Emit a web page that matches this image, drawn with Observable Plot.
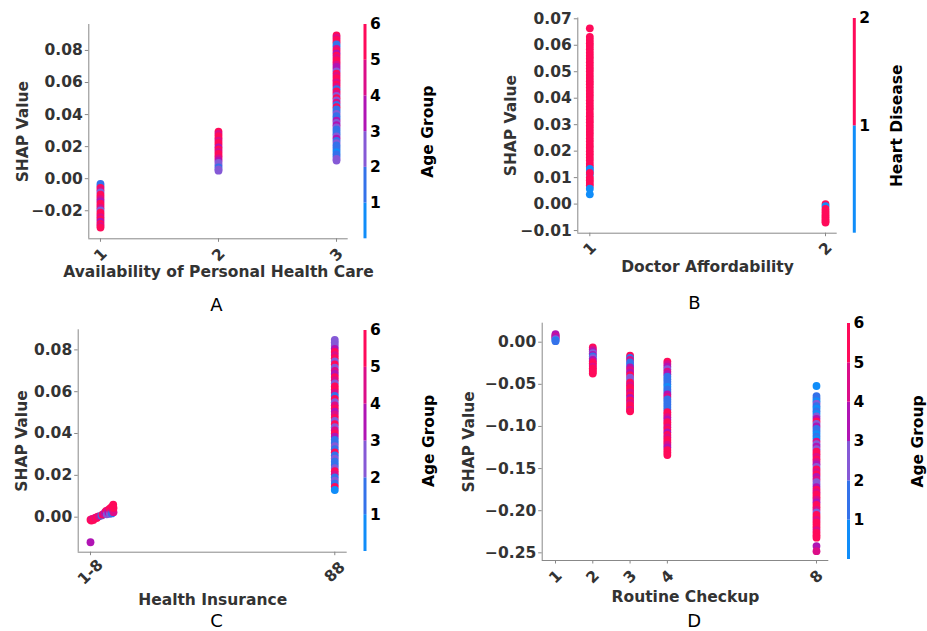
<!DOCTYPE html>
<html>
<head>
<meta charset="utf-8">
<script src="https://cdn.jsdelivr.net/npm/d3@7"></script>
<script src="https://cdn.jsdelivr.net/npm/@observablehq/plot@0.6"></script>
<style>
  html, body { margin: 0; padding: 0; background: #fff; }
  #chart { position: relative; width: 927px; height: 631px; overflow: hidden; background: #fff; }
  #chart svg { position: absolute; left: 0; top: 0; }
</style>
</head>
<body>
<div id="chart"></div>
<script>
// ---------- Data: SHAP dependence values, [shap, interaction value] per point ----------

// A: Availability of Personal Health Care, coloured by Age Group
const availabilityTicks = [1, 2, 3];
const availabilityCol1 = [[-0.0032, 2], [-0.0045, 2], [-0.0058, 6], [-0.0072, 5], [-0.0086, 3], [-0.0100, 6], [-0.0114, 6], [-0.0128, 5], [-0.0142, 4], [-0.0156, 6], [-0.0170, 6], [-0.0184, 5], [-0.0198, 3], [-0.0212, 6], [-0.0226, 6], [-0.0240, 5], [-0.0254, 6], [-0.0268, 4], [-0.0282, 6], [-0.0294, 5], [-0.0305, 6]];
const availabilityCol2 = [[0.0294, 6], [0.0280, 5], [0.0266, 6], [0.0252, 6], [0.0238, 5], [0.0224, 6], [0.0210, 6], [0.0196, 4], [0.0182, 6], [0.0168, 5], [0.0154, 6], [0.0140, 6], [0.0126, 5], [0.0112, 4], [0.0098, 3], [0.0084, 3], [0.0070, 2], [0.0058, 3], [0.0050, 3]];
const availabilityCol3 = [[0.0894, 6], [0.0880, 5], [0.0866, 6], [0.0852, 6], [0.0838, 2], [0.0824, 2], [0.0810, 5], [0.0796, 6], [0.0782, 4], [0.0768, 6], [0.0754, 5], [0.0740, 6], [0.0726, 6], [0.0712, 5], [0.0698, 4], [0.0684, 4], [0.0670, 3], [0.0656, 6], [0.0642, 5], [0.0628, 6], [0.0614, 6], [0.0600, 5], [0.0586, 6], [0.0572, 5], [0.0558, 2], [0.0544, 6], [0.0530, 5], [0.0516, 3], [0.0502, 6], [0.0488, 3], [0.0474, 5], [0.0460, 2], [0.0446, 6], [0.0432, 2], [0.0418, 2], [0.0404, 3], [0.0390, 2], [0.0376, 2], [0.0362, 4], [0.0348, 3], [0.0334, 4], [0.0320, 3], [0.0306, 2], [0.0292, 2], [0.0278, 2], [0.0264, 3], [0.0250, 4], [0.0236, 2], [0.0222, 3], [0.0208, 2], [0.0194, 2], [0.0180, 2], [0.0166, 1], [0.0152, 2], [0.0138, 2], [0.0124, 3], [0.0113, 3]];

// B: Doctor Affordability, coloured by Heart Disease
const affordabilityTicks = [1, 2];
const affordabilityCol1 = [[0.0664, 2], [0.0632, 2], [0.0620, 2], [0.0608, 2], [0.0597, 2], [0.0585, 2], [0.0572, 2], [0.0560, 2], [0.0549, 2], [0.0536, 2], [0.0524, 2], [0.0512, 2], [0.0501, 2], [0.0488, 2], [0.0476, 2], [0.0464, 2], [0.0453, 2], [0.0440, 2], [0.0428, 2], [0.0416, 2], [0.0405, 2], [0.0392, 2], [0.0380, 2], [0.0368, 2], [0.0357, 2], [0.0344, 2], [0.0332, 2], [0.0320, 2], [0.0309, 2], [0.0296, 2], [0.0284, 2], [0.0272, 2], [0.0261, 2], [0.0248, 2], [0.0236, 2], [0.0224, 2], [0.0213, 2], [0.0200, 2], [0.0188, 2], [0.0176, 2], [0.0165, 2], [0.0152, 2], [0.0141, 2], [0.0133, 1], [0.0125, 1], [0.0112, 1], [0.0118, 2], [0.0100, 2], [0.0090, 2], [0.0080, 2], [0.0070, 2], [0.0058, 1], [0.0037, 1]];
const affordabilityCol2 = [[0.0000, 2], [-0.0008, 1], [-0.0018, 2], [-0.0026, 2], [-0.0034, 2], [-0.0042, 2], [-0.0050, 2], [-0.0058, 2], [-0.0064, 2], [-0.0070, 2]];

// C: Health Insurance, coloured by Age Group ([insurance code, shap, age])
const insuranceTicks = [1, 88];
const insuranceTickLabels = ["1-8", "88"];
const insuranceLow = [[1.0, -0.0012, 6], [1.3, -0.0016, 6], [1.6, -0.0008, 5], [2.0, -0.0013, 6], [2.4, -0.0006, 6], [2.8, -0.0002, 5], [3.2, -0.0004, 6], [3.6, 0.0002, 6], [4.0, 0.0004, 5], [4.9, 0.0008, 2], [5.3, 0.0012, 6], [5.8, 0.0016, 5], [6.2, 0.0024, 4], [6.6, 0.0030, 6], [6.8, 0.0014, 3], [7.2, 0.0034, 5], [7.4, 0.0022, 4], [7.8, 0.0040, 6], [7.9, 0.0016, 3], [8.3, 0.0046, 6], [8.4, 0.0028, 5], [8.6, 0.0018, 2], [8.8, 0.0052, 6], [9.0, 0.0036, 6], [9.1, 0.0060, 6], [9.2, 0.0024, 5], [9.2, 0.0044, 6], [1.0, -0.0120, 4]];
const insuranceNone = [[0.0848, 3], [0.0835, 3], [0.0820, 3], [0.0805, 4], [0.0790, 6], [0.0775, 5], [0.0760, 6], [0.0745, 3], [0.0730, 6], [0.0715, 3], [0.0700, 5], [0.0685, 4], [0.0670, 6], [0.0655, 5], [0.0640, 3], [0.0625, 6], [0.0610, 6], [0.0595, 5], [0.0580, 2], [0.0565, 6], [0.0550, 3], [0.0535, 5], [0.0520, 6], [0.0505, 4], [0.0490, 5], [0.0475, 6], [0.0460, 3], [0.0445, 6], [0.0430, 3], [0.0415, 5], [0.0400, 6], [0.0385, 4], [0.0370, 2], [0.0355, 2], [0.0340, 3], [0.0325, 2], [0.0310, 6], [0.0295, 2], [0.0280, 3], [0.0265, 2], [0.0250, 2], [0.0235, 3], [0.0220, 6], [0.0205, 5], [0.0190, 2], [0.0175, 3], [0.0160, 2], [0.0145, 6], [0.0130, 1]];

// D: Routine Checkup, coloured by Age Group
const checkupTicks = [1, 2, 3, 4, 8];
const checkupCol1 = [[0.0096, 4], [0.0086, 4], [0.0076, 4], [0.0066, 5], [0.0056, 4], [0.0046, 4], [0.0036, 3], [0.0022, 1], [0.0012, 2]];
const checkupCol2 = [[-0.0063, 6], [-0.0088, 5], [-0.0110, 4], [-0.0130, 3], [-0.0150, 4], [-0.0170, 2], [-0.0190, 3], [-0.0210, 4], [-0.0230, 5], [-0.0250, 6], [-0.0270, 6], [-0.0290, 5], [-0.0310, 6], [-0.0330, 6], [-0.0350, 6], [-0.0372, 6]];
const checkupCol3 = [[-0.0160, 6], [-0.0185, 2], [-0.0210, 5], [-0.0240, 2], [-0.0270, 2], [-0.0300, 4], [-0.0330, 5], [-0.0360, 4], [-0.0390, 6], [-0.0420, 3], [-0.0450, 3], [-0.0480, 6], [-0.0510, 5], [-0.0540, 6], [-0.0570, 6], [-0.0600, 5], [-0.0630, 6], [-0.0660, 4], [-0.0690, 6], [-0.0720, 5], [-0.0750, 6], [-0.0780, 6], [-0.0805, 5], [-0.0820, 6]];
const checkupCol4 = [[-0.0230, 6], [-0.0260, 5], [-0.0290, 4], [-0.0320, 3], [-0.0350, 5], [-0.0380, 4], [-0.0410, 2], [-0.0440, 2], [-0.0470, 2], [-0.0500, 2], [-0.0530, 1], [-0.0560, 2], [-0.0590, 2], [-0.0620, 4], [-0.0650, 5], [-0.0680, 2], [-0.0710, 2], [-0.0740, 2], [-0.0770, 2], [-0.0800, 2], [-0.0830, 6], [-0.0860, 6], [-0.0890, 5], [-0.0920, 4], [-0.0950, 6], [-0.0980, 6], [-0.1010, 5], [-0.1040, 6], [-0.1070, 4], [-0.1100, 6], [-0.1130, 5], [-0.1160, 6], [-0.1190, 6], [-0.1220, 5], [-0.1250, 4], [-0.1280, 6], [-0.1310, 6], [-0.1340, 6]];
const checkupCol8 = [[-0.0520, 1], [-0.0640, 2], [-0.0670, 2], [-0.0700, 1], [-0.0730, 3], [-0.0760, 2], [-0.0790, 1], [-0.0820, 2], [-0.0850, 1], [-0.0880, 3], [-0.0910, 4], [-0.0940, 6], [-0.0970, 3], [-0.1000, 4], [-0.1030, 2], [-0.1060, 2], [-0.1090, 1], [-0.1120, 2], [-0.1150, 1], [-0.1180, 5], [-0.1210, 3], [-0.1240, 4], [-0.1270, 3], [-0.1300, 6], [-0.1330, 6], [-0.1360, 5], [-0.1390, 6], [-0.1420, 5], [-0.1450, 4], [-0.1480, 3], [-0.1510, 6], [-0.1540, 5], [-0.1570, 6], [-0.1600, 4], [-0.1630, 5], [-0.1660, 3], [-0.1690, 3], [-0.1720, 4], [-0.1750, 6], [-0.1780, 5], [-0.1810, 6], [-0.1840, 6], [-0.1870, 5], [-0.1900, 4], [-0.1930, 6], [-0.1960, 6], [-0.1990, 5], [-0.2020, 3], [-0.2050, 6], [-0.2080, 6], [-0.2110, 5], [-0.2140, 6], [-0.2170, 6], [-0.2200, 6], [-0.2230, 5], [-0.2260, 6], [-0.2290, 6], [-0.2320, 6], [-0.2420, 4], [-0.2480, 5]];

// Colour bar levels
const ageGroups = [1, 2, 3, 4, 5, 6];
const heartDiseaseLevels = [1, 2];

// ---------- Layout ----------
const W = 927, H = 631;
const FONT = "DejaVu Sans";
const ageColors = ["#108df9", "#3472ea", "#8559d6", "#b014b4", "#dc0d88", "#ff0a5a"];
const heartColors = ["#108df9", "#ff0a5a"];

const columns = (cols) => cols.flatMap(([x, pts]) => pts.map(([shap, c]) => ({x, shap, c})));

function frameMargins(f) {
  return {marginLeft: f.left, marginRight: W - f.right, marginTop: f.top, marginBottom: H - f.bottom};
}

const baseStyle = {
  fontFamily: FONT, fontSize: "15.5px", fontWeight: "bold", color: "#333",
  background: "transparent", overflow: "visible"
};

function scatterPanel(o) {
  return Plot.plot({
    width: W, height: H, ...frameMargins(o.frame),
    style: baseStyle,
    x: {domain: o.xDomain},
    y: {domain: o.yDomain},
    color: {type: "ordinal", domain: o.colorDomain, range: o.colorRange},
    marks: [
      Plot.ruleX([o.xDomain[0]], {stroke: "#888", strokeWidth: 1}),
      Plot.ruleY([o.yDomain[0]], {stroke: "#888", strokeWidth: 1}),
      Plot.dot(o.data, {x: "x", y: "shap", fill: "c", r: 3.9}),
      Plot.axisY({ticks: o.yTicks, tickFormat: d3.format(".2f"), tickSize: 3.5, tickPadding: 2.5,
                  stroke: "#888", fill: "#333", label: null}),
      Plot.axisX({ticks: o.xTicks, tickSize: 3.5, stroke: "#888", tickFormat: () => "", label: null}),
      Plot.text(o.xTicks, {x: d => d, text: (d, i) => o.xTickLabels[i], frameAnchor: "bottom",
                           dy: o.xTickDy, rotate: -45, textAnchor: "middle", lineAnchor: "middle", fill: "#333"}),
      Plot.text(["SHAP Value"], {text: d => d, frameAnchor: "left", dx: o.yLabelDx, rotate: -90,
                                 textAnchor: "middle", lineAnchor: "middle", fill: "#333"}),
      Plot.text([o.xLabel], {text: d => d, frameAnchor: "bottom", dy: o.xLabelDy,
                             textAnchor: "middle", lineAnchor: "middle", fill: "#333"}),
      Plot.text([o.letter], {text: d => d, frameAnchor: "bottom", dx: o.letterDx, dy: o.letterDy,
                             textAnchor: "middle", lineAnchor: "middle", fill: "#000",
                             fontSize: 18, fontWeight: "normal"})
    ]
  });
}

function colorBar(o) {
  return Plot.plot({
    width: W, height: H, ...frameMargins(o.frame),
    style: baseStyle,
    x: {domain: [0, 1], axis: null},
    y: {domain: [0, o.levels.length]},
    color: {type: "ordinal", domain: o.levels, range: o.colorRange},
    marks: [
      Plot.rect(o.levels, {x1: 0, x2: 1, y1: d => d - 1, y2: d => d, fill: d => d, inset: 0}),
      Plot.axisY(o.levels, {anchor: "right", tickSize: 0, tickPadding: 3, fill: "#000",
                            tickFormat: d3.format("d"), label: null}),
      Plot.text([o.label], {text: d => d, frameAnchor: "right", dx: o.labelDx, rotate: -90,
                            textAnchor: "middle", lineAnchor: "middle", fill: "#000"})
    ]
  });
}

const chart = document.getElementById("chart");

// A
chart.append(scatterPanel({
  frame: {left: 88.3, right: 347.7, top: 24, bottom: 238.3},
  data: columns([[1, availabilityCol1], [2, availabilityCol2], [3, availabilityCol3]]),
  xDomain: [0.901, 3.099], yDomain: [-0.0375, 0.0962],
  xTicks: availabilityTicks, xTickLabels: availabilityTicks.map(String), xTickDy: 16,
  yTicks: [-0.02, 0, 0.02, 0.04, 0.06, 0.08],
  colorDomain: ageGroups, colorRange: ageColors,
  xLabel: "Availability of Personal Health Care", xLabelDy: 33.5, yLabelDx: -66,
  letter: "A", letterDx: -2, letterDy: 66
}));
chart.append(colorBar({
  frame: {left: 363.5, right: 366.5, top: 24, bottom: 238.3},
  levels: ageGroups, colorRange: ageColors, label: "Age Group", labelDx: 61.5
}));

// B
chart.append(scatterPanel({
  frame: {left: 577.3, right: 836.7, top: 17.5, bottom: 232.7},
  data: columns([[1, affordabilityCol1], [2, affordabilityCol2]]),
  xDomain: [0.949, 2.0496], yDomain: [-0.0110, 0.0703],
  xTicks: affordabilityTicks, xTickLabels: affordabilityTicks.map(String), xTickDy: 15.6,
  yTicks: [-0.01, 0, 0.01, 0.02, 0.03, 0.04, 0.05, 0.06, 0.07],
  colorDomain: heartDiseaseLevels, colorRange: heartColors,
  xLabel: "Doctor Affordability", xLabelDy: 34, yLabelDx: -67,
  letter: "B", letterDx: -13, letterDy: 70
}));
chart.append(colorBar({
  frame: {left: 852.8, right: 855.8, top: 18, bottom: 232.7},
  levels: heartDiseaseLevels, colorRange: heartColors, label: "Heart Disease", labelDx: 40.7
}));

// C
chart.append(scatterPanel({
  frame: {left: 77.7, right: 346.7, top: 329.3, bottom: 551.7},
  data: [
    ...insuranceLow.map(([x, shap, c]) => ({x, shap, c})),
    ...columns([[88, insuranceNone]])
  ],
  xDomain: [-3.38, 92.42], yDomain: [-0.01675, 0.0896],
  xTicks: insuranceTicks, xTickLabels: insuranceTickLabels, xTickDy: 20,
  yTicks: [0, 0.02, 0.04, 0.06, 0.08],
  colorDomain: ageGroups, colorRange: ageColors,
  xLabel: "Health Insurance", xLabelDy: 48, yLabelDx: -56,
  letter: "C", letterDx: 3.8, letterDy: 68.8
}));
chart.append(colorBar({
  frame: {left: 363.5, right: 366.5, top: 330, bottom: 551},
  levels: ageGroups, colorRange: ageColors, label: "Age Group", labelDx: 62.5
}));

// D
chart.append(scatterPanel({
  frame: {left: 541.7, right: 828.3, top: 322.7, bottom: 560},
  data: columns([[1, checkupCol1], [2, checkupCol2], [3, checkupCol3], [4, checkupCol4], [8, checkupCol8]]),
  xDomain: [0.643, 8.33], yDomain: [-0.2591, 0.02255],
  xTicks: checkupTicks, xTickLabels: checkupTicks.map(String), xTickDy: 16.5,
  yTicks: [-0.25, -0.2, -0.15, -0.1, -0.05, 0],
  colorDomain: ageGroups, colorRange: ageColors,
  xLabel: "Routine Checkup", xLabelDy: 36.6, yLabelDx: -73.5,
  letter: "D", letterDx: 8.7, letterDy: 60.5
}));
chart.append(colorBar({
  frame: {left: 847, right: 850, top: 323, bottom: 559},
  levels: ageGroups, colorRange: ageColors, label: "Age Group", labelDx: 68
}));
</script>
</body>
</html>
